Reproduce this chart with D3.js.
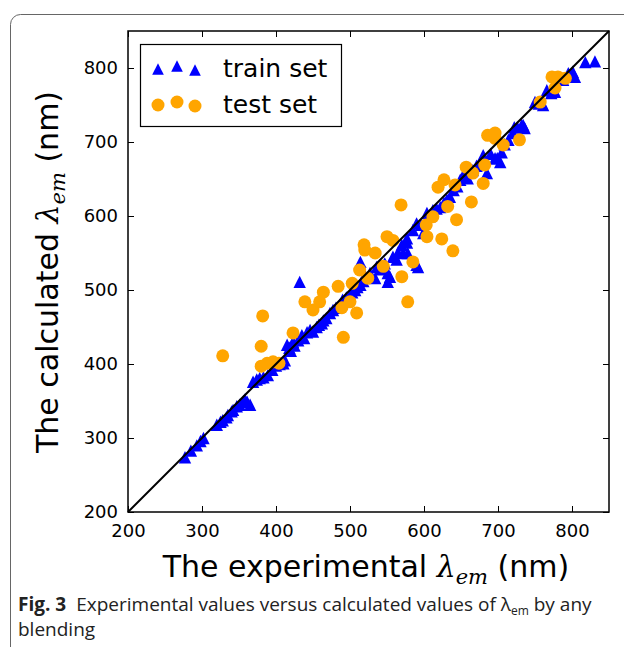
<!DOCTYPE html>
<html>
<head>
<meta charset="UTF-8">
<style>
  body { margin: 0; background: #fff; }
  svg { display: block; }
  .tick text { font-family: "DejaVu Sans", sans-serif; font-size: 18px; fill: #000; }
</style>
</head>
<body>
<svg></svg>
<script src="https://d3js.org/d3.v7.min.js"></script>
<script>

// train set (experimental, calculated)
let trainExp = [277,285,293,298,302,320,325,328,333,335,340,342,347,351,356,361,365,358,369,374,378,383,389,395,400,405,410,412,415,418,423,420,425,430,435,438,442,446,450,455,458,462,464,468,473,477,481,486,490,495,500,503,507,510,514,518,432,514,520,527,534,536,541,547,551,551,554,558,563,565,570,572,577,578,577,585,590,592,590,596,599,604,608,612,617,622,627,631,635,640,645,649,653,659,662,666,671,676,680,685,690,696,699,703,705,709,714,720,722,726,734,732,736,750,755,761,766,772,777,788,795,801,804,818,831];
let trainCalc = [274,283,290,296,300,318,322,324,328,331,336,338,343,345,350,349,345,352,376,379,381,382,385,392,398,400,401,405,426,422,430,418,425,432,439,435,443,446,444,450,453,455,459,462,469,473,476,480,487,490,493,497,500,504,507,512,511,538,520,523,516,531,528,536,511,523,518,545,541,551,561,550,570,550,564,581,590,531,534,588,577,604,600,608,610,612,618,622,626,635,640,649,655,651,660,662,668,672,682,658,684,678,678,673,686,697,703,712,720,720,723,723,719,754,752,750,770,766,768,784,793,795,788,808,809];

// test set
let testExp = [328,382,380,380,388,396,404,423,439,450,459,464,484,489,491,500,503,509,513,519,520,524,534,545,550,558,569,570,578,585,603,604,612,619,624,627,632,639,642,644,657,664,666,680,682,686,696,696,707,729,757,773,781,791,777];
let testCalc = [411,465,424,397,401,403,401,442,484,473,484,497,505,476,436,484,509,469,527,561,554,516,550,532,572,567,615,518,484,538,588,572,599,639,569,649,613,553,642,595,666,619,658,644,669,709,705,712,696,703,754,788,788,786,773];

let ticks = [200, 300, 400, 500, 600, 700, 800];
let domain = [200, 850];

let width = 624, height = 647;
let svg = d3.select("svg").attr("width", width).attr("height", height);

// card frame
svg.append("rect")
  .attr("x", 10.5).attr("y", 14.5)
  .attr("width", 640).attr("height", 660)
  .attr("rx", 10)
  .attr("fill", "#fff")
  .attr("stroke", "#666")
  .attr("stroke-width", 1);

let x = d3.scaleLinear().domain(domain).range([128, 609]);
let y = d3.scaleLinear().domain(domain).range([512, 31]);

let plot = svg.append("g");

let train = trainExp.map((d, i) => ({x: d, y: trainCalc[i]}));
let test = testExp.map((d, i) => ({x: d, y: testCalc[i]}));

function tri(s) {
  return "M0," + (-s) + "L" + (-s) + "," + s + "L" + s + "," + s + "Z";
}

plot.selectAll("path.train")
  .data(train)
  .enter()
  .append("path")
  .attr("class", "train")
  .attr("d", tri(6.2))
  .attr("transform", d => "translate(" + x(d.x) + "," + y(d.y) + ")")
  .attr("fill", "#0000ff");

plot.selectAll("circle.test")
  .data(test)
  .enter()
  .append("circle")
  .attr("class", "test")
  .attr("cx", d => x(d.x))
  .attr("cy", d => y(d.y))
  .attr("r", 6.5)
  .attr("fill", "#ffa500");

// y = x line
plot.append("line")
  .attr("x1", x(domain[0])).attr("y1", y(domain[0]))
  .attr("x2", x(domain[1])).attr("y2", y(domain[1]))
  .attr("stroke", "#000")
  .attr("stroke-width", 2);

// axes, ticks pointing inward
let axB = svg.append("g").attr("transform", "translate(0,512)")
  .call(d3.axisBottom(x).tickValues(ticks).tickSizeInner(-6).tickSizeOuter(0).tickPadding(10));
let axL = svg.append("g").attr("transform", "translate(128,0)")
  .call(d3.axisLeft(y).tickValues(ticks).tickSizeInner(-6).tickSizeOuter(0).tickPadding(10));
let axT = svg.append("g").attr("transform", "translate(0,31)")
  .call(d3.axisTop(x).tickValues(ticks).tickSizeInner(-6).tickSizeOuter(0).tickFormat(""));
let axR = svg.append("g").attr("transform", "translate(609,0)")
  .call(d3.axisRight(y).tickValues(ticks).tickSizeInner(-6).tickSizeOuter(0).tickFormat(""));

[axB, axL, axT, axR].forEach(a => {
  a.select(".domain").remove();
  a.selectAll(".tick line").attr("stroke", "#000").attr("stroke-width", 1);
});
axB.selectAll(".tick text").attr("dy", "0.85em");

svg.append("rect")
  .attr("x", 128).attr("y", 31)
  .attr("width", 481).attr("height", 481)
  .attr("fill", "none")
  .attr("stroke", "#000")
  .attr("stroke-width", 1.5);

// legend
let legend = svg.append("g");
legend.append("rect")
  .attr("x", 140.5).attr("y", 44.5)
  .attr("width", 201).attr("height", 82)
  .attr("fill", "#fff")
  .attr("stroke", "#000")
  .attr("stroke-width", 1.2);

let legendItems = [
  {label: "train set", y: 68, kind: "tri"},
  {label: "test set", y: 104, kind: "circle"}
];
let offsets = [1, -2, 2];
let lx = [158, 177, 195];

legendItems.forEach(item => {
  offsets.forEach((o, i) => {
    if (item.kind === "tri") {
      legend.append("path")
        .attr("d", tri(5.8))
        .attr("transform", "translate(" + lx[i] + "," + (item.y + o) + ")")
        .attr("fill", "#0000ff");
    } else {
      legend.append("circle")
        .attr("cx", lx[i]).attr("cy", item.y + o)
        .attr("r", 6.5)
        .attr("fill", "#ffa500");
    }
  });
  legend.append("text")
    .attr("x", 223).attr("y", item.y + 9)
    .style("font-family", "DejaVu Sans")
    .style("font-size", "25px")
    .text(item.label);
});

// axis labels
function lambdaLabel(sel, prefix) {
  sel.style("font-family", "DejaVu Sans").style("font-size", "30px");
  sel.append("tspan").text(prefix);
  sel.append("tspan").text("λ")
    .style("font-family", "DejaVu Serif").style("font-style", "italic");
  sel.append("tspan").text("em").attr("dy", 7)
    .style("font-family", "DejaVu Serif").style("font-style", "italic").style("font-size", "21px");
  sel.append("tspan").text(" (nm)").attr("dy", -7);
}

svg.append("text")
  .attr("x", 366).attr("y", 577)
  .attr("text-anchor", "middle")
  .call(lambdaLabel, "The experimental ");

svg.append("text")
  .attr("transform", "translate(58,272) rotate(-90)")
  .attr("text-anchor", "middle")
  .call(lambdaLabel, "The calculated ");

// caption
let cap = svg.append("text")
  .attr("x", 18).attr("y", 611)
  .style("font-family", "Open Sans")
  .style("font-size", "19px")
  .attr("fill", "#222");
cap.append("tspan").text("Fig. 3").style("font-weight", "bold");
cap.append("tspan").text("Experimental values versus calculated values of λ").attr("dx", 10);
cap.append("tspan").text("em").attr("dy", 4).style("font-size", "12px");
cap.append("tspan").text(" by any").attr("dy", -4);

svg.append("text")
  .attr("x", 18).attr("y", 636)
  .style("font-family", "Open Sans")
  .style("font-size", "19px")
  .attr("fill", "#222")
  .text("blending");

</script>
</body>
</html>
